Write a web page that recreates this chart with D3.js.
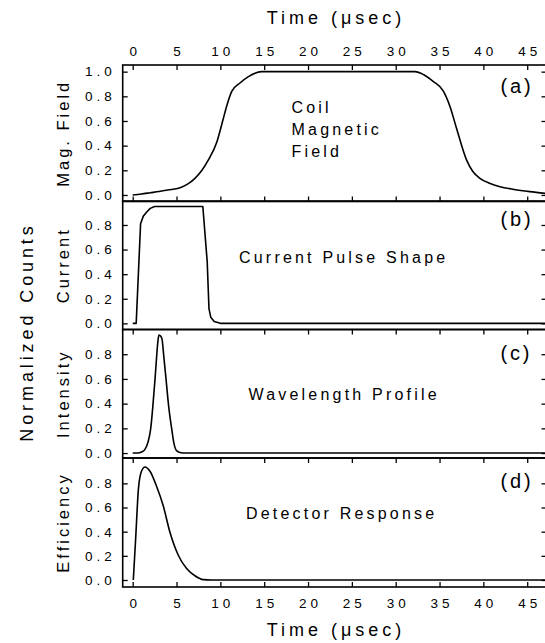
<!DOCTYPE html>
<html><head><meta charset="utf-8">
<script src="https://cdn.jsdelivr.net/npm/d3@7"></script>
<style>
body{margin:0;background:#fff}
svg text{font-family:"Liberation Sans",Arial,Helvetica,sans-serif;fill:#000}
</style>
</head><body>
<svg id="chart" width="545" height="643"></svg>
<script>
// ---------- data ----------
const timeTicks = [0,5,10,15,20,25,30,35,40,45];
const fieldTicks = [0,0.2,0.4,0.6,0.8,1.0];
const countTicks = [0,0.2,0.4,0.6,0.8];

const magTime  = [0,1,2,3,4,5.4,6.3,7.1,7.9,8.6,9.6,10.3,10.7,11.3,12.2,13.2,14.7,32.2,33.2,34.3,35.4,36.2,36.9,38.1,38.8,39.6,40.7,41.9,43.5,45.3,47.2];
const magField = [0,0.008,0.018,0.028,0.04,0.059,0.09,0.135,0.2,0.28,0.43,0.61,0.716,0.84,0.906,0.96,1.0,1.0,0.975,0.92,0.846,0.716,0.55,0.28,0.19,0.135,0.095,0.067,0.045,0.027,0.012];

const curTime  = [0,0.4,0.9,1.2,1.6,2.0,2.5,8.0,8.5,8.7,8.9,9.3,10,47.2];
const current  = [0,0,0.81,0.87,0.906,0.935,0.95,0.95,0.5,0.12,0.05,0.015,0,0];

const wavTime  = [0,0.6,1.0,1.4,1.75,2.05,2.3,2.55,2.75,2.9,3.0,3.2,3.35,3.55,3.8,4.1,4.45,4.7,5.0,5.5,6.0,47.2];
const intensity= [0,0,0.008,0.03,0.09,0.195,0.38,0.6,0.8,0.92,0.955,0.945,0.92,0.78,0.6,0.38,0.195,0.08,0.02,0.003,0,0];

const detTime  = [0.07,0.34,0.65,1.0,1.4,1.97,2.7,3.5,4.25,5.2,6.15,7.1,8.05,9.0,47.2];
const efficiency=[0,0.345,0.75,0.9,0.935,0.9,0.78,0.61,0.395,0.205,0.095,0.035,0.003,0,0];

const panelLetters = ["(a)","(b)","(c)","(d)"];
const yTitles = ["Mag. Field","Current","Intensity","Efficiency"];

// ---------- layout ----------
const svg = d3.select("#chart");
const x = d3.scaleLinear().domain([-1.14, 47.2]).range([122.7, 546.5]);
const L = 122.7, R = 546.5;

const panels = [
  {top:65,    bot:201.5, dom:[-0.053,1.054], ticks:fieldTicks, tx:magTime, ty:magField, curve:d3.curveMonotoneX, topT:true, botT:true, lab:93},
  {top:201,   bot:329.5, dom:[-0.05,0.995],  ticks:countTicks, tx:curTime, ty:current,  curve:d3.curveLinear,    topT:false, botT:false, lab:226},
  {top:329.5, bot:458,   dom:[-0.04,1.0],    ticks:countTicks, tx:wavTime, ty:intensity,curve:d3.curveMonotoneX, topT:true, botT:false, lab:360},
  {top:458,   bot:587,   dom:[-0.058,1.01],  ticks:countTicks, tx:detTime, ty:efficiency,curve:d3.curveMonotoneX, topT:true, botT:true, lab:488}
];

const tickFont = {size:"13.5px", ls:"4px"};

panels.forEach((p,i)=>{
  const y = d3.scaleLinear().domain(p.dom).range([p.bot, p.top]);
  const g = svg.append("g");

  // left axis
  const la = g.append("g").attr("transform",`translate(${L},0)`)
    .call(d3.axisLeft(y).tickValues(p.ticks).tickFormat(d3.format(".1f")).tickSizeInner(-5).tickSizeOuter(0).tickPadding(7));
  la.select(".domain").remove();
  la.selectAll("text").style("font-size",tickFont.size).style("letter-spacing",tickFont.ls).attr("font-family",null);
  // right axis
  const ra = g.append("g").attr("transform",`translate(${R},0)`)
    .call(d3.axisRight(y).tickValues(p.ticks).tickFormat("").tickSizeInner(-5).tickSizeOuter(0));
  ra.select(".domain").remove();

  if(p.topT){
    const ta = g.append("g").attr("transform",`translate(0,${p.top})`)
      .call(d3.axisTop(x).tickValues(timeTicks).tickSizeInner(-5).tickSizeOuter(0).tickPadding(9).tickFormat(i===0?d3.format("d"):""));
    ta.select(".domain").remove();
    ta.selectAll("text").style("font-size",tickFont.size).style("letter-spacing",tickFont.ls).attr("dx","2px");
  }
  if(p.botT){
    const ba = g.append("g").attr("transform",`translate(0,${p.bot})`)
      .call(d3.axisBottom(x).tickValues(timeTicks).tickSizeInner(-5).tickSizeOuter(0).tickPadding(11).tickFormat(i===3?d3.format("d"):""));
    ba.select(".domain").remove();
    ba.selectAll("text").style("font-size",tickFont.size).style("letter-spacing",tickFont.ls).attr("dx","2px");
  }
  g.selectAll(".tick line").attr("stroke","#000").attr("stroke-width",1.3);

  // frame
  g.append("rect").attr("x",L).attr("y",p.top).attr("width",R-L).attr("height",p.bot-p.top)
    .attr("fill","none").attr("stroke","#000").attr("stroke-width",1.6);

  // curve
  const pts = p.tx.map((t,k)=>[t,p.ty[k]]);
  g.append("path").datum(pts)
    .attr("d", d3.line().x(d=>x(d[0])).y(d=>y(d[1])).curve(p.curve))
    .attr("fill","none").attr("stroke","#000").attr("stroke-width",1.6).attr("stroke-linejoin","round");

  // panel letter
  g.append("text").attr("x",500.5).attr("y",p.lab).text(panelLetters[i])
    .style("font-size","20px").style("letter-spacing","2.8px");

  // y title
  g.append("text").attr("transform",`translate(69,${(p.top+p.bot)/2}) rotate(-90)`)
    .attr("text-anchor","middle").text(yTitles[i])
    .style("font-size","16.5px").style("letter-spacing","3px");
});

// inner annotations
const inner = [
  {t:"Coil", x:291.5, y:113},
  {t:"Magnetic", x:291.5, y:135},
  {t:"Field", x:291.5, y:157},
  {t:"Current Pulse Shape", x:239, y:263},
  {t:"Wavelength Profile", x:248.5, y:400},
  {t:"Detector Response", x:246, y:519}
];
svg.selectAll("text.inner").data(inner).enter().append("text").attr("class","inner")
  .attr("x",d=>d.x).attr("y",d=>d.y).text(d=>d.t)
  .style("font-size","16px").style("letter-spacing","3.2px");

// titles
svg.append("text").attr("x",336).attr("y",24).attr("text-anchor","middle")
  .text("Time (μsec)").style("font-size","18px").style("letter-spacing","4px");
svg.append("text").attr("x",336).attr("y",636).attr("text-anchor","middle")
  .text("Time (μsec)").style("font-size","18px").style("letter-spacing","4px");
svg.append("text").attr("transform","translate(33,332) rotate(-90)").attr("text-anchor","middle")
  .text("Normalized Counts").style("font-size","18px").style("letter-spacing","3.9px");
</script>
</body></html>
